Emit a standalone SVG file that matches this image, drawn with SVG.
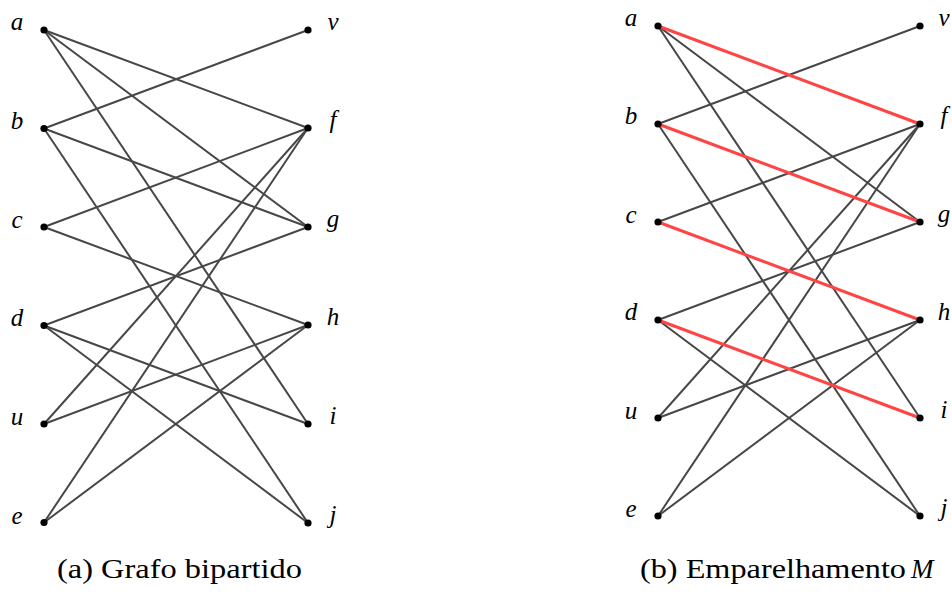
<svg xmlns="http://www.w3.org/2000/svg" width="952" height="596" viewBox="0 0 952 596">
<style>
.e{stroke:#474747;stroke-width:2;fill:none}
.m{stroke:#ff4444;stroke-width:3;fill:none}
.n{fill:#000}
.lb{font-family:'Liberation Serif','Times New Roman',serif;font-style:italic;font-size:25px;fill:#000;text-anchor:middle}
.cap{font-family:'Liberation Serif','Times New Roman',serif;font-size:27px;fill:#000}
</style>
<rect width="952" height="596" fill="#fff"/>
<g id="connectors-a">
<line class="e" x1="44" y1="30" x2="308" y2="128"/>
<line class="e" x1="44" y1="30" x2="308" y2="227"/>
<line class="e" x1="44" y1="30" x2="308" y2="424"/>
<line class="e" x1="44" y1="128.5" x2="308" y2="30"/>
<line class="e" x1="44" y1="128.5" x2="308" y2="227"/>
<line class="e" x1="44" y1="128.5" x2="308" y2="523"/>
<line class="e" x1="44" y1="227" x2="308" y2="128"/>
<line class="e" x1="44" y1="227" x2="308" y2="325"/>
<line class="e" x1="44" y1="325.5" x2="308" y2="227"/>
<line class="e" x1="44" y1="325.5" x2="308" y2="424"/>
<line class="e" x1="44" y1="325.5" x2="308" y2="523"/>
<line class="e" x1="44" y1="424" x2="308" y2="128"/>
<line class="e" x1="44" y1="424" x2="308" y2="325"/>
<line class="e" x1="44" y1="522.5" x2="308" y2="128"/>
<line class="e" x1="44" y1="522.5" x2="308" y2="325"/>
</g>
<g id="connectors-b">
<line class="e" x1="658" y1="26" x2="920" y2="222"/>
<line class="e" x1="658" y1="26" x2="920" y2="418"/>
<line class="e" x1="658" y1="124" x2="920" y2="26"/>
<line class="e" x1="658" y1="124" x2="920" y2="516"/>
<line class="e" x1="658" y1="222" x2="920" y2="124"/>
<line class="e" x1="658" y1="320" x2="920" y2="222"/>
<line class="e" x1="658" y1="320" x2="920" y2="516"/>
<line class="e" x1="658" y1="418" x2="920" y2="124"/>
<line class="e" x1="658" y1="418" x2="920" y2="320"/>
<line class="e" x1="658" y1="516" x2="920" y2="124"/>
<line class="e" x1="658" y1="516" x2="920" y2="320"/>
<line class="m" x1="658" y1="26" x2="920" y2="124"/>
<line class="m" x1="658" y1="124" x2="920" y2="222"/>
<line class="m" x1="658" y1="222" x2="920" y2="320"/>
<line class="m" x1="658" y1="320" x2="920" y2="418"/>
</g>
<g id="A-a"><circle class="n" cx="44" cy="30" r="3.6"/><text class="lb" x="17" y="30">a</text></g>
<g id="A-b"><circle class="n" cx="44" cy="128.5" r="3.6"/><text class="lb" x="17" y="128.5">b</text></g>
<g id="A-c"><circle class="n" cx="44" cy="227" r="3.6"/><text class="lb" x="17" y="228">c</text></g>
<g id="A-d"><circle class="n" cx="44" cy="325.5" r="3.6"/><text class="lb" x="17" y="325.5">d</text></g>
<g id="A-u"><circle class="n" cx="44" cy="424" r="3.6"/><text class="lb" x="17" y="425">u</text></g>
<g id="A-e"><circle class="n" cx="44" cy="522.5" r="3.6"/><text class="lb" x="17" y="523.5">e</text></g>
<g id="A-v"><circle class="n" cx="308" cy="30" r="3.6"/><text class="lb" x="333" y="30">v</text></g>
<g id="A-f"><circle class="n" cx="308" cy="128" r="3.6"/><text class="lb" x="333" y="128">f</text></g>
<g id="A-g"><circle class="n" cx="308" cy="227" r="3.6"/><text class="lb" x="333" y="227">g</text></g>
<g id="A-h"><circle class="n" cx="308" cy="325" r="3.6"/><text class="lb" x="333" y="325">h</text></g>
<g id="A-i"><circle class="n" cx="308" cy="424" r="3.6"/><text class="lb" x="333" y="424">i</text></g>
<g id="A-j"><circle class="n" cx="308" cy="523" r="3.6"/><text class="lb" x="333" y="523">j</text></g>
<g id="B-a"><circle class="n" cx="658" cy="26" r="3.6"/><text class="lb" x="631" y="26">a</text></g>
<g id="B-b"><circle class="n" cx="658" cy="124" r="3.6"/><text class="lb" x="631" y="124">b</text></g>
<g id="B-c"><circle class="n" cx="658" cy="222" r="3.6"/><text class="lb" x="631" y="223">c</text></g>
<g id="B-d"><circle class="n" cx="658" cy="320" r="3.6"/><text class="lb" x="631" y="320">d</text></g>
<g id="B-u"><circle class="n" cx="658" cy="418" r="3.6"/><text class="lb" x="631" y="419">u</text></g>
<g id="B-e"><circle class="n" cx="658" cy="516" r="3.6"/><text class="lb" x="631" y="517">e</text></g>
<g id="B-v"><circle class="n" cx="920" cy="26" r="3.6"/><text class="lb" x="944" y="26">v</text></g>
<g id="B-f"><circle class="n" cx="920" cy="124" r="3.6"/><text class="lb" x="944" y="124">f</text></g>
<g id="B-g"><circle class="n" cx="920" cy="222" r="3.6"/><text class="lb" x="944" y="222">g</text></g>
<g id="B-h"><circle class="n" cx="920" cy="320" r="3.6"/><text class="lb" x="944" y="320">h</text></g>
<g id="B-i"><circle class="n" cx="920" cy="418" r="3.6"/><text class="lb" x="944" y="418">i</text></g>
<g id="B-j"><circle class="n" cx="920" cy="516" r="3.6"/><text class="lb" x="944" y="516">j</text></g>
<g id="caption-a"><text class="cap" x="57" y="578" textLength="245" lengthAdjust="spacingAndGlyphs">(a) Grafo bipartido</text></g>
<g id="caption-b"><text class="cap" x="640" y="578" textLength="266" lengthAdjust="spacingAndGlyphs">(b) Emparelhamento</text><text class="cap" x="911" y="578" font-style="italic">M</text></g>
</svg>
